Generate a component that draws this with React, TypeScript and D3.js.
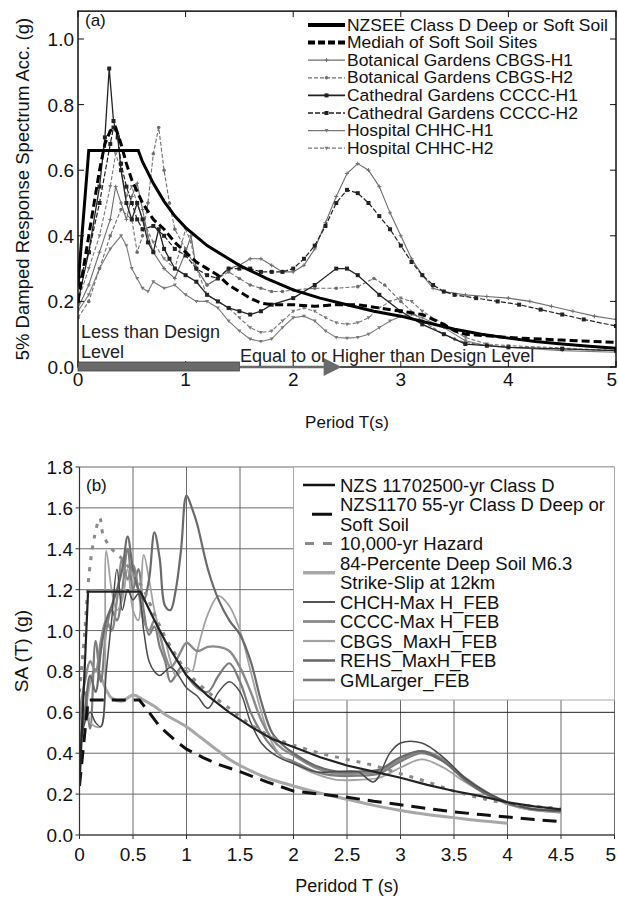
import React from 'react';
import * as d3 from 'd3';

type P = [number, number];

// ---------------- Panel (a) data ----------------
const aNZSEE: P[] = [[0,0.25],[0.1,0.66],[0.56,0.66],[0.6,0.625],[0.7,0.56],[0.8,0.505],[0.9,0.46],[1.0,0.425],[1.2,0.37],[1.4,0.33],[1.5,0.31],[1.75,0.27],[2.0,0.235],[2.25,0.21],[2.5,0.19],[2.75,0.17],[3.0,0.155],[3.25,0.135],[3.5,0.115],[3.75,0.1],[4.0,0.088],[4.25,0.078],[4.5,0.07],[4.75,0.063],[5.0,0.057]];
const aMedian: P[] = [[0,0.2],[0.05,0.3],[0.1,0.4],[0.15,0.5],[0.2,0.6],[0.25,0.68],[0.3,0.72],[0.35,0.73],[0.4,0.68],[0.45,0.62],[0.5,0.57],[0.6,0.5],[0.7,0.45],[0.8,0.42],[0.9,0.38],[1.0,0.35],[1.1,0.32],[1.2,0.3],[1.3,0.28],[1.4,0.25],[1.5,0.23],[1.6,0.21],[1.7,0.195],[1.8,0.19],[2.0,0.19],[2.2,0.185],[2.4,0.19],[2.6,0.19],[2.8,0.18],[3.0,0.17],[3.2,0.16],[3.4,0.13],[3.5,0.11],[3.6,0.1],[3.8,0.095],[4.0,0.09],[4.5,0.082],[5.0,0.075]];
const aCBGS1: P[] = [[0,0.18],[0.1,0.25],[0.2,0.35],[0.3,0.45],[0.35,0.55],[0.4,0.5],[0.45,0.45],[0.5,0.52],[0.55,0.56],[0.6,0.48],[0.65,0.4],[0.7,0.35],[0.8,0.3],[0.9,0.27],[1.0,0.35],[1.05,0.4],[1.1,0.3],[1.2,0.25],[1.3,0.27],[1.4,0.3],[1.5,0.31],[1.6,0.33],[1.7,0.33],[1.8,0.31],[1.9,0.29],[2.0,0.29],[2.1,0.31],[2.2,0.36],[2.3,0.44],[2.4,0.52],[2.5,0.59],[2.6,0.62],[2.7,0.6],[2.8,0.55],[2.9,0.47],[3.0,0.4],[3.1,0.33],[3.2,0.28],[3.3,0.24],[3.4,0.23],[3.6,0.22],[3.8,0.215],[4.0,0.21],[4.2,0.2],[4.4,0.185],[4.6,0.17],[4.8,0.155],[5.0,0.145]];
const aCBGS2: P[] = [[0,0.15],[0.1,0.2],[0.2,0.3],[0.3,0.4],[0.4,0.48],[0.5,0.45],[0.55,0.35],[0.6,0.4],[0.65,0.5],[0.7,0.65],[0.75,0.73],[0.8,0.6],[0.85,0.5],[0.9,0.42],[1.0,0.36],[1.1,0.3],[1.2,0.25],[1.3,0.27],[1.4,0.29],[1.5,0.27],[1.6,0.25],[1.7,0.24],[1.8,0.23],[1.9,0.23],[2.0,0.235],[2.2,0.24],[2.4,0.24],[2.6,0.245],[2.75,0.27],[2.85,0.25],[3.0,0.2],[3.2,0.14],[3.4,0.1],[3.5,0.085],[3.6,0.075],[3.8,0.065],[4.0,0.06],[4.5,0.055],[5.0,0.05]];
const aCCCC1: P[] = [[0,0.2],[0.1,0.35],[0.2,0.55],[0.25,0.7],[0.29,0.91],[0.33,0.75],[0.37,0.7],[0.4,0.6],[0.45,0.5],[0.5,0.45],[0.55,0.5],[0.6,0.45],[0.65,0.38],[0.7,0.35],[0.75,0.42],[0.8,0.36],[0.85,0.33],[0.9,0.3],[1.0,0.28],[1.1,0.26],[1.2,0.22],[1.3,0.2],[1.4,0.18],[1.5,0.17],[1.6,0.16],[1.7,0.17],[1.8,0.19],[2.0,0.21],[2.2,0.25],[2.4,0.3],[2.5,0.3],[2.6,0.28],[2.8,0.22],[3.0,0.17],[3.2,0.13],[3.4,0.1],[3.6,0.07],[3.8,0.065],[4.0,0.06],[4.5,0.055],[5.0,0.05]];
const aCCCC2: P[] = [[0,0.25],[0.1,0.35],[0.2,0.5],[0.3,0.68],[0.33,0.73],[0.37,0.7],[0.4,0.62],[0.45,0.55],[0.5,0.5],[0.55,0.45],[0.6,0.42],[0.7,0.43],[0.8,0.4],[0.9,0.36],[1.0,0.34],[1.1,0.3],[1.2,0.28],[1.3,0.27],[1.4,0.3],[1.5,0.3],[1.6,0.3],[1.7,0.29],[1.8,0.29],[1.9,0.29],[2.0,0.3],[2.1,0.33],[2.2,0.37],[2.3,0.43],[2.4,0.5],[2.5,0.54],[2.6,0.53],[2.7,0.5],[2.8,0.46],[2.9,0.42],[3.0,0.37],[3.1,0.32],[3.2,0.28],[3.3,0.25],[3.4,0.23],[3.5,0.22],[3.7,0.21],[3.9,0.2],[4.1,0.19],[4.3,0.175],[4.5,0.16],[4.7,0.145],[5.0,0.125]];
const aCHHC1: P[] = [[0,0.17],[0.1,0.22],[0.2,0.3],[0.3,0.36],[0.4,0.4],[0.45,0.37],[0.5,0.3],[0.55,0.27],[0.6,0.24],[0.65,0.23],[0.7,0.26],[0.8,0.24],[0.9,0.25],[1.0,0.22],[1.1,0.2],[1.2,0.2],[1.3,0.18],[1.4,0.14],[1.5,0.11],[1.6,0.085],[1.7,0.078],[1.8,0.085],[1.9,0.12],[2.0,0.15],[2.1,0.155],[2.2,0.14],[2.3,0.11],[2.4,0.09],[2.5,0.088],[2.6,0.09],[2.7,0.1],[2.8,0.12],[2.9,0.14],[3.0,0.155],[3.1,0.16],[3.2,0.15],[3.4,0.12],[3.6,0.08],[3.8,0.065],[4.0,0.06],[4.5,0.05],[5.0,0.045]];
const aCHHC2: P[] = [[0,0.2],[0.1,0.3],[0.2,0.4],[0.3,0.55],[0.35,0.65],[0.4,0.6],[0.45,0.52],[0.5,0.55],[0.55,0.5],[0.6,0.45],[0.7,0.38],[0.8,0.33],[0.9,0.3],[1.0,0.42],[1.05,0.38],[1.1,0.3],[1.2,0.22],[1.3,0.2],[1.4,0.18],[1.5,0.15],[1.6,0.12],[1.7,0.105],[1.8,0.11],[1.9,0.14],[2.0,0.17],[2.1,0.18],[2.2,0.17],[2.3,0.15],[2.4,0.135],[2.5,0.13],[2.6,0.135],[2.7,0.15],[2.8,0.18],[2.9,0.2],[3.0,0.21],[3.1,0.2],[3.2,0.17],[3.4,0.13],[3.6,0.09],[3.8,0.07],[4.0,0.065],[4.5,0.058],[5.0,0.05]];

const aXTicks = [0, 1, 2, 3, 4, 5];
const aYTicks = [0, 0.2, 0.4, 0.6, 0.8, 1.0];
const aDesignLimit = 1.5;   // end of "less than design" bar (s)
const aArrowEnd = 2.45;     // tip of arrow (s)

// ---------------- Panel (b) data ----------------
const bNZS2500: P[] = [[0,0.24],[0.08,1.19],[0.57,1.19],[0.7,1.05],[0.8,0.95],[1.0,0.78],[1.2,0.68],[1.4,0.6],[1.6,0.53],[1.8,0.47],[2.0,0.43],[2.25,0.38],[2.5,0.34],[2.75,0.31],[3.0,0.28],[3.25,0.245],[3.5,0.215],[3.75,0.19],[4.0,0.16],[4.25,0.14],[4.5,0.125]];
const bNZS55: P[] = [[0,0.24],[0.08,0.66],[0.56,0.66],[0.65,0.6],[0.75,0.53],[0.9,0.46],[1.0,0.42],[1.15,0.38],[1.3,0.345],[1.5,0.31],[1.75,0.26],[2.0,0.215],[2.25,0.2],[2.5,0.185],[2.75,0.165],[3.0,0.148],[3.25,0.13],[3.5,0.113],[3.75,0.1],[4.0,0.088],[4.25,0.076],[4.5,0.065]];
const bHazard: P[] = [[0,0.7],[0.05,1.0],[0.09,1.28],[0.14,1.46],[0.19,1.55],[0.22,1.47],[0.3,1.4],[0.4,1.35],[0.5,1.28],[0.6,1.2],[0.7,1.08],[0.8,0.97],[0.9,0.88],[1.0,0.8],[1.2,0.7],[1.4,0.62],[1.6,0.54],[1.8,0.48],[2.0,0.44],[2.25,0.4],[2.5,0.37],[2.75,0.34],[3.0,0.3],[3.25,0.26],[3.5,0.215],[3.75,0.18],[4.0,0.155],[4.25,0.14],[4.5,0.13]];
const b84: P[] = [[0,0.45],[0.05,0.6],[0.1,0.75],[0.15,0.81],[0.2,0.77],[0.25,0.71],[0.3,0.67],[0.4,0.655],[0.5,0.685],[0.6,0.66],[0.7,0.63],[0.8,0.59],[0.9,0.56],[1.0,0.53],[1.1,0.49],[1.2,0.45],[1.3,0.41],[1.4,0.37],[1.5,0.34],[1.75,0.28],[2.0,0.24],[2.25,0.205],[2.5,0.175],[2.75,0.145],[3.0,0.12],[3.25,0.1],[3.5,0.085],[3.75,0.07],[4.0,0.058]];
const bCHCH: P[] = [[0,0.4],[0.05,0.55],[0.1,0.6],[0.15,0.55],[0.2,0.53],[0.25,0.8],[0.3,1.05],[0.35,1.3],[0.4,1.1],[0.45,1.2],[0.5,1.15],[0.55,1.18],[0.6,1.0],[0.65,0.85],[0.7,0.8],[0.75,0.78],[0.8,0.8],[0.85,0.82],[0.9,0.8],[0.95,0.76],[1.0,0.72],[1.1,0.68],[1.2,0.62],[1.3,0.7],[1.4,0.75],[1.5,0.7],[1.6,0.55],[1.7,0.45],[1.8,0.4],[1.9,0.37],[2.0,0.35],[2.2,0.31],[2.4,0.31],[2.6,0.31],[2.75,0.26],[2.9,0.4],[3.0,0.45],[3.2,0.45],[3.4,0.38],[3.6,0.28],[3.8,0.21],[4.0,0.16],[4.2,0.13],[4.4,0.12],[4.5,0.12]];
const bCCCC: P[] = [[0,0.6],[0.05,0.75],[0.1,0.85],[0.15,0.8],[0.2,0.95],[0.25,1.05],[0.3,1.0],[0.35,1.15],[0.4,1.35],[0.45,1.25],[0.5,1.32],[0.55,1.2],[0.6,1.05],[0.65,1.0],[0.7,1.05],[0.75,0.98],[0.8,0.88],[0.85,0.82],[0.9,0.85],[0.95,0.9],[1.0,0.94],[1.1,0.9],[1.2,0.92],[1.3,0.92],[1.4,0.9],[1.5,0.82],[1.6,0.7],[1.7,0.56],[1.8,0.47],[1.9,0.42],[2.0,0.39],[2.2,0.33],[2.4,0.3],[2.6,0.3],[2.8,0.31],[3.0,0.37],[3.2,0.41],[3.4,0.37],[3.6,0.28],[3.8,0.21],[4.0,0.16],[4.2,0.13],[4.4,0.12],[4.5,0.12]];
const bCBGS: P[] = [[0,0.5],[0.05,0.62],[0.1,0.55],[0.15,0.53],[0.2,0.53],[0.23,0.6],[0.25,1.39],[0.3,1.2],[0.35,1.1],[0.4,1.15],[0.45,1.3],[0.5,1.1],[0.55,1.05],[0.6,1.37],[0.65,1.25],[0.7,1.1],[0.75,1.0],[0.8,0.95],[0.85,0.85],[0.9,0.78],[0.95,0.8],[1.0,0.82],[1.05,0.8],[1.1,0.9],[1.2,1.08],[1.3,1.17],[1.4,1.12],[1.5,1.0],[1.6,0.8],[1.7,0.6],[1.8,0.45],[1.9,0.38],[2.0,0.35],[2.2,0.3],[2.4,0.27],[2.6,0.27],[2.8,0.28],[3.0,0.33],[3.2,0.37],[3.4,0.33],[3.6,0.26],[3.8,0.2],[4.0,0.15],[4.2,0.125],[4.4,0.115],[4.5,0.11]];
const bREHS: P[] = [[0,0.45],[0.05,0.6],[0.1,0.78],[0.15,0.7],[0.2,0.9],[0.25,1.05],[0.3,1.12],[0.35,1.2],[0.4,1.3],[0.45,1.46],[0.5,1.3],[0.55,1.2],[0.6,1.15],[0.65,1.25],[0.7,1.48],[0.75,1.35],[0.8,1.12],[0.85,1.1],[0.9,1.2],[0.95,1.4],[1.0,1.66],[1.05,1.6],[1.1,1.52],[1.2,1.3],[1.3,1.15],[1.4,1.05],[1.5,0.98],[1.6,0.85],[1.7,0.65],[1.8,0.5],[1.9,0.44],[2.0,0.4],[2.2,0.34],[2.4,0.31],[2.6,0.31],[2.8,0.32],[3.0,0.38],[3.2,0.41],[3.4,0.36],[3.6,0.27],[3.8,0.2],[4.0,0.155],[4.2,0.13],[4.4,0.12],[4.5,0.115]];
const bGML: P[] = [[0,0.55],[0.05,0.7],[0.1,0.52],[0.15,0.95],[0.2,0.75],[0.25,1.0],[0.3,1.1],[0.35,1.05],[0.4,1.2],[0.45,1.4],[0.5,1.2],[0.55,1.3],[0.6,1.1],[0.65,0.98],[0.7,1.02],[0.75,0.92],[0.8,0.85],[0.85,0.75],[0.9,0.78],[0.95,0.82],[1.0,0.78],[1.1,0.72],[1.2,0.7],[1.3,0.78],[1.4,0.84],[1.5,0.75],[1.6,0.6],[1.7,0.5],[1.8,0.43],[1.9,0.38],[2.0,0.36],[2.2,0.31],[2.4,0.29],[2.6,0.29],[2.8,0.3],[3.0,0.36],[3.2,0.4],[3.4,0.36],[3.6,0.28],[3.8,0.21],[4.0,0.155],[4.2,0.125],[4.4,0.115],[4.5,0.11]];

const bXTicks = [0, 0.5, 1, 1.5, 2, 2.5, 3, 3.5, 4, 4.5, 5];
const bYTicks = [0, 0.2, 0.4, 0.6, 0.8, 1.0, 1.2, 1.4, 1.6, 1.8];

const FONT = '"Liberation Sans", Arial, sans-serif';

type Marker = 'none' | 'plus' | 'square' | 'dot' | 'tri';

function Markers({ pts, kind, color, sx, sy }: { pts: P[]; kind: Marker; color: string; sx: any; sy: any }) {
  if (kind === 'none') return null;
  return (
    <g fill={color} stroke={color}>
      {pts.map((p, i) => {
        const x = sx(p[0]), y = sy(p[1]);
        if (kind === 'square') return <rect key={i} x={x - 2} y={y - 2} width={4} height={4} strokeWidth={0} />;
        if (kind === 'dot') return <circle key={i} cx={x} cy={y} r={1.8} strokeWidth={0} />;
        if (kind === 'tri') return <path key={i} d={`M${x - 2},${y - 1.5}L${x + 2},${y - 1.5}L${x},${y + 2}Z`} strokeWidth={0} />;
        return <path key={i} d={`M${x - 2},${y}H${x + 2}M${x},${y - 2}V${y + 2}`} strokeWidth={1} fill="none" />;
      })}
    </g>
  );
}

export default function App() {
  // ---------- Panel (a) scales ----------
  const xa = d3.scaleLinear().domain([0, 5]).range([78, 616]);
  const ya = d3.scaleLinear().domain([0, 1]).range([367, 39]);
  const aTop = ya(1.085);
  const la = d3.line<P>().x(d => xa(d[0])).y(d => ya(d[1]));

  // ---------- Panel (b) scales ----------
  const xb = d3.scaleLinear().domain([0, 5]).range([79.5, 614.5]);
  const yb = d3.scaleLinear().domain([0, 1.8]).range([835, 467]);
  const lbLin = d3.line<P>().x(d => xb(d[0])).y(d => yb(d[1]));
  const lbSm = d3.line<P>().x(d => xb(d[0])).y(d => yb(d[1])).curve(d3.curveCatmullRom.alpha(0.5));

  const aSeries = [
    { name: 'Hospital CHHC-H2', data: aCHHC2, color: '#7a7a7a', w: 1.1, dash: '4,2', marker: 'tri' as Marker },
    { name: 'Hospital CHHC-H1', data: aCHHC1, color: '#7a7a7a', w: 1.1, dash: '', marker: 'tri' as Marker },
    { name: 'Botanical Gardens CBGS-H2', data: aCBGS2, color: '#6e6e6e', w: 1.1, dash: '4,2', marker: 'dot' as Marker },
    { name: 'Botanical Gardens CBGS-H1', data: aCBGS1, color: '#6e6e6e', w: 1.1, dash: '', marker: 'plus' as Marker },
    { name: 'Cathedral Gardens CCCC-H2', data: aCCCC2, color: '#222', w: 1.2, dash: '5,2', marker: 'square' as Marker },
    { name: 'Cathedral Gardens CCCC-H1', data: aCCCC1, color: '#222', w: 1.3, dash: '', marker: 'square' as Marker },
  ];

  const aLegend = [
    { name: 'NZSEE Class D Deep or Soft Soil', color: '#000', w: 4, dash: '', marker: 'none' as Marker },
    { name: 'Mediah of Soft Soil Sites', color: '#000', w: 4, dash: '7,3', marker: 'none' as Marker },
    { name: 'Botanical Gardens CBGS-H1', color: '#6e6e6e', w: 1.3, dash: '', marker: 'plus' as Marker },
    { name: 'Botanical Gardens CBGS-H2', color: '#6e6e6e', w: 1.3, dash: '4,2', marker: 'dot' as Marker },
    { name: 'Cathedral Gardens CCCC-H1', color: '#222', w: 1.6, dash: '', marker: 'square' as Marker },
    { name: 'Cathedral Gardens CCCC-H2', color: '#222', w: 1.6, dash: '5,2', marker: 'square' as Marker },
    { name: 'Hospital CHHC-H1', color: '#7a7a7a', w: 1.3, dash: '', marker: 'tri' as Marker },
    { name: 'Hospital CHHC-H2', color: '#7a7a7a', w: 1.3, dash: '4,2', marker: 'tri' as Marker },
  ];

  const bStations = [
    { name: 'GMLarger_FEB', data: bGML, color: '#7c7c7c', w: 2.2 },
    { name: 'CBGS_MaxH_FEB', data: bCBGS, color: '#a2a2a2', w: 1.8 },
    { name: 'CCCC-Max H_FEB', data: bCCCC, color: '#8a8a8a', w: 2.4 },
    { name: 'REHS_MaxH_FEB', data: bREHS, color: '#6a6a6a', w: 2.2 },
    { name: 'CHCH-Max H_FEB', data: bCHCH, color: '#4a4a4a', w: 1.5 },
  ];

  const bLegendRows = [485, 504.5, 524, 543.5, 563, 582.5, 602, 621.5, 641, 660.5, 680];
  const bLegendText = ['NZS 11702500-yr Class D', 'NZS1170 55-yr Class D Deep or', 'Soft Soil', '10,000-yr Hazard', '84-Percente Deep Soil M6.3', 'Strike-Slip at 12km', 'CHCH-Max H_FEB', 'CCCC-Max H_FEB', 'CBGS_MaxH_FEB', 'REHS_MaxH_FEB', 'GMLarger_FEB'];

  const fmt1 = d3.format('.1f');

  return (
    <svg width={618} height={900} style={{ position: 'absolute', left: 0, top: 0, background: '#fff' }} fontFamily={FONT}>
      <defs>
        <clipPath id="clipA"><rect x={xa(0)} y={aTop} width={xa(5) - xa(0)} height={ya(0) - aTop} /></clipPath>
        <clipPath id="clipB"><rect x={xb(0)} y={yb(1.8)} width={xb(5) - xb(0)} height={yb(0) - yb(1.8)} /></clipPath>
      </defs>

      {/* ================= Panel (a) ================= */}
      <g clipPath="url(#clipA)">
        {aSeries.map(s => (
          <g key={s.name}>
            <path d={la(s.data) || ''} fill="none" stroke={s.color} strokeWidth={s.w} strokeDasharray={s.dash || undefined} />
            <Markers pts={s.data} kind={s.marker} color={s.color} sx={xa} sy={ya} />
          </g>
        ))}
        <path d={la(aMedian) || ''} fill="none" stroke="#000" strokeWidth={3} strokeDasharray="8,4" />
        <path d={la(aNZSEE) || ''} fill="none" stroke="#000" strokeWidth={3} />
      </g>

      {/* frame */}
      <rect x={xa(0)} y={aTop} width={xa(5) - xa(0)} height={ya(0) - aTop} fill="none" stroke="#111" strokeWidth={1.5} />
      {aXTicks.map((t, i) => (
        <g key={'ax' + t}>
          <line x1={xa(t)} x2={xa(t)} y1={ya(0)} y2={ya(0) - 6} stroke="#111" />
          <line x1={xa(t)} x2={xa(t)} y1={aTop} y2={aTop + 6} stroke="#111" />
          <text x={i === aXTicks.length - 1 ? 617 : xa(t)} y={386} fontSize={19} textAnchor={i === aXTicks.length - 1 ? 'end' : 'middle'} fill="#111">{t}</text>
        </g>
      ))}
      {aYTicks.map(t => (
        <g key={'ay' + t}>
          <line x1={xa(0)} x2={xa(0) + 6} y1={ya(t)} y2={ya(t)} stroke="#111" />
          <line x1={xa(5)} x2={xa(5) - 6} y1={ya(t)} y2={ya(t)} stroke="#111" />
          <text x={74} y={ya(t) + 7} fontSize={19} textAnchor="end" fill="#111">{fmt1(t)}</text>
        </g>
      ))}
      <text x={85} y={26} fontSize={17} fill="#111">(a)</text>
      <text transform={`translate(29,${(aTop + ya(0)) / 2}) rotate(-90)`} fontSize={18.5} textAnchor="middle" fill="#111">5% Damped Response Spectrum Acc. (g)</text>
      <text x={(xa(0) + xa(5)) / 2} y={428} fontSize={17} textAnchor="middle" fill="#111">Period T(s)</text>

      {/* design level arrow */}
      <rect x={xa(0)} y={ya(0) - 5} width={xa(aDesignLimit) - xa(0)} height={9} fill="#6a6a6a" stroke="#444" strokeWidth={0.8} />
      <line x1={xa(aDesignLimit)} x2={xa(aArrowEnd) - 14} y1={ya(0)} y2={ya(0)} stroke="#6a6a6a" strokeWidth={2.5} />
      <path d={`M${xa(aArrowEnd) - 18},${ya(0) - 9}L${xa(aArrowEnd) - 18},${ya(0) + 9}L${xa(aArrowEnd)},${ya(0)}Z`} fill="#6a6a6a" />
      <text x={81} y={338} fontSize={18} fill="#222">Less than Design</text>
      <text x={81} y={358} fontSize={18} fill="#222">Level</text>
      <text x={240} y={362} fontSize={18} fill="#222">Equal to or Higher than Design Level</text>

      {/* legend (a) */}
      {aLegend.map((s, i) => {
        const cy = 25 + i * 17.6;
        return (
          <g key={'la' + i}>
            <line x1={308} x2={345} y1={cy} y2={cy} stroke={s.color} strokeWidth={s.w} strokeDasharray={s.dash || undefined} />
            <Markers pts={[[0, 0]]} kind={s.marker} color={s.color} sx={() => 326.5} sy={() => cy} />
            <text transform={`translate(347,${cy + 5.5}) scale(1.12,1)`} fontSize={15.6} fill="#111">{s.name}</text>
          </g>
        );
      })}

      {/* ================= Panel (b) ================= */}
      {/* grid */}
      {bXTicks.map(t => (
        <line key={'gx' + t} x1={xb(t)} x2={xb(t)} y1={yb(0)} y2={yb(1.8)} stroke="#6a6a6a" strokeWidth={1} />
      ))}
      {bYTicks.map(t => (
        <line key={'gy' + t} x1={xb(0)} x2={xb(5)} y1={yb(t)} y2={yb(t)} stroke={t === 0.6 ? '#222' : '#6a6a6a'} strokeWidth={1} />
      ))}

      <g clipPath="url(#clipB)">
        <path d={lbSm(b84) || ''} fill="none" stroke="#a8a8a8" strokeWidth={3} />
        {bStations.map(s => (
          <path key={s.name} d={lbSm(s.data) || ''} fill="none" stroke={s.color} strokeWidth={s.w} />
        ))}
        <path d={lbSm(bHazard) || ''} fill="none" stroke="#8a8a8a" strokeWidth={3} strokeDasharray="4,7" />
        <path d={lbLin(bNZS55) || ''} fill="none" stroke="#111" strokeWidth={3} strokeDasharray="14,8" />
        <path d={lbLin(bNZS2500) || ''} fill="none" stroke="#222" strokeWidth={2.2} />
      </g>

      {/* legend (b) */}
      <rect x={xb(2)} y={yb(1.8)} width={xb(5) - xb(2)} height={700 - yb(1.8)} fill="#fff" stroke="#aaa" strokeWidth={1} />
      <line x1={303} x2={335} y1={bLegendRows[0]} y2={bLegendRows[0]} stroke="#111" strokeWidth={2.5} />
      <line x1={312} x2={332} y1={(bLegendRows[1] + bLegendRows[2]) / 2} y2={(bLegendRows[1] + bLegendRows[2]) / 2} stroke="#111" strokeWidth={3} />
      <line x1={305} x2={335} y1={bLegendRows[3]} y2={bLegendRows[3]} stroke="#8a8a8a" strokeWidth={3} strokeDasharray="9,9" />
      <line x1={303} x2={335} y1={(bLegendRows[4] + bLegendRows[5]) / 2} y2={(bLegendRows[4] + bLegendRows[5]) / 2} stroke="#a8a8a8" strokeWidth={3.5} />
      {['CHCH-Max H_FEB', 'CCCC-Max H_FEB', 'CBGS_MaxH_FEB', 'REHS_MaxH_FEB', 'GMLarger_FEB'].map((n, i) => {
        const s = bStations.find(d => d.name === n)!;
        const cy = bLegendRows[6 + i];
        return <line key={n} x1={303} x2={335} y1={cy} y2={cy} stroke={s.color} strokeWidth={s.w + 0.4} />;
      })}
      {bLegendText.map((t, i) => (
        <text key={'lt' + i} x={340} y={bLegendRows[i] + 6.5} fontSize={18.5} fill="#111">{t}</text>
      ))}

      {/* axes (b) */}
      <line x1={xb(0)} x2={xb(0)} y1={yb(0)} y2={yb(1.8)} stroke="#333" strokeWidth={1.2} />
      <line x1={xb(0)} x2={xb(5)} y1={yb(0)} y2={yb(0)} stroke="#333" strokeWidth={1.2} />
      {bXTicks.map((t, i) => (
        <g key={'bx' + t}>
          <line x1={xb(t)} x2={xb(t)} y1={yb(0)} y2={yb(0) + 4} stroke="#333" />
          <text x={i === bXTicks.length - 1 ? 616 : xb(t)} y={861} fontSize={19} textAnchor={i === bXTicks.length - 1 ? 'end' : 'middle'} fill="#111">{String(t)}</text>
        </g>
      ))}
      {bYTicks.map(t => (
        <g key={'by' + t}>
          <line x1={xb(0) - 4} x2={xb(0)} y1={yb(t)} y2={yb(t)} stroke="#333" />
          <text x={73} y={yb(t) + 7} fontSize={19} textAnchor="end" fill="#111">{fmt1(t)}</text>
        </g>
      ))}
      <text x={86} y={491} fontSize={17} fill="#111">(b)</text>
      <text transform={`translate(28,${(yb(0) + yb(1.8)) / 2}) rotate(-90)`} fontSize={19} textAnchor="middle" fill="#111">SA (T) (g)</text>
      <text x={(xb(0) + xb(5)) / 2} y={892} fontSize={18} textAnchor="middle" fill="#111">Peridod T (s)</text>
    </svg>
  );
}
